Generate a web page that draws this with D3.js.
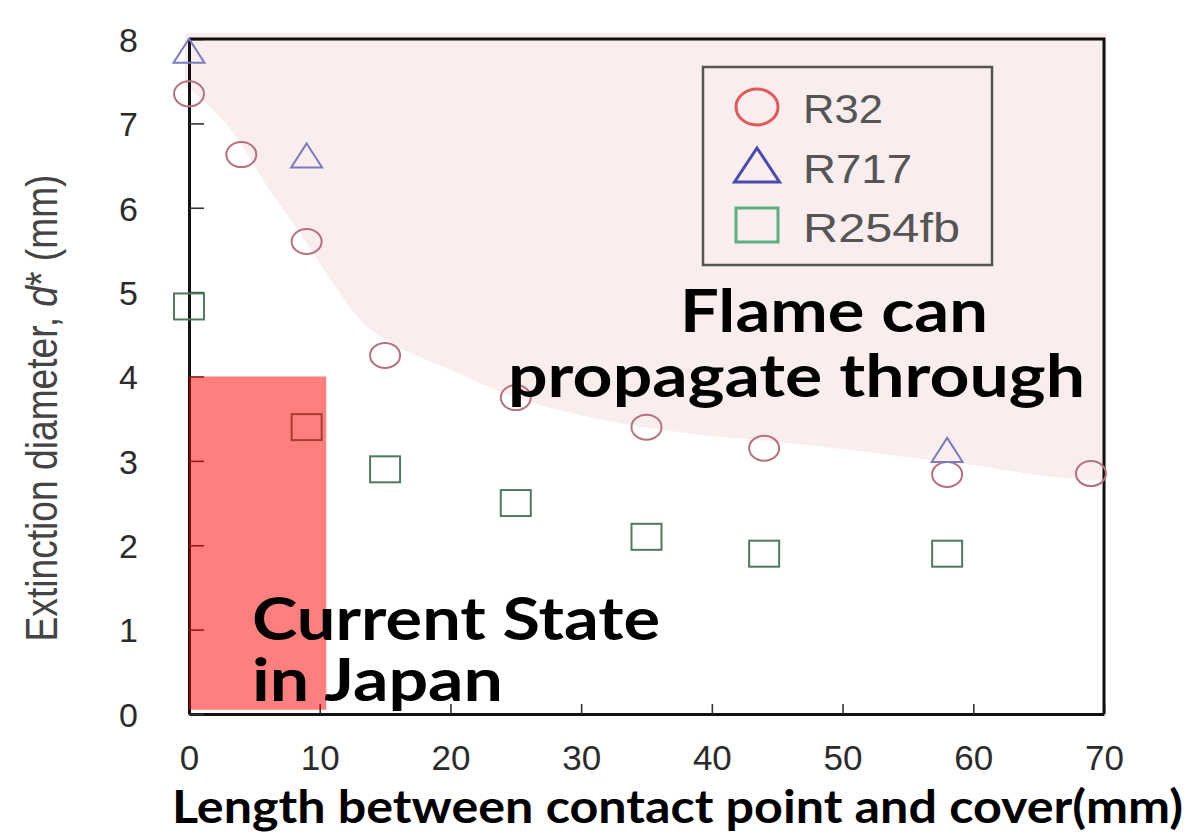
<!DOCTYPE html>
<html>
<head>
<meta charset="utf-8">
<script src="https://cdn.jsdelivr.net/npm/d3@7"></script>
<style>
  html, body { margin: 0; padding: 0; background: #fff; }
  svg { display: block; }
</style>
</head>
<body>
<svg id="chart" width="1188" height="837"></svg>
<script>
// ---- data ----
const r32X = [0, 4, 9, 15, 25, 35, 44, 58, 69];
const r32Y = [7.35, 6.63, 5.6, 4.25, 3.75, 3.4, 3.15, 2.84, 2.85];
const r717X = [0, 9, 58];
const r717Y = [7.86, 6.62, 3.13];
const r254X = [0, 9, 15, 25, 35, 44, 58];
const r254Y = [4.83, 3.4, 2.9, 2.5, 2.1, 1.9, 1.9];
// boundary of the "flame can propagate" region
const bndX = [0, 0.8, 3.4, 6.0, 8.5, 11.0, 13.3, 15.5, 20.0, 24.8, 28.4, 39.1, 44.1, 58.0, 70.2];
const bndY = [7.42, 7.31, 6.89, 6.25, 5.70, 5.11, 4.64, 4.40, 4.08, 3.76, 3.60, 3.31, 3.24, 2.99, 2.77];
// Japan current state region
const japanX = [0, 10.5];
const japanY = [0.05, 4.0];
const xTicks = [0, 10, 20, 30, 40, 50, 60, 70];
const yTicks = [0, 1, 2, 3, 4, 5, 6, 7, 8];
const legendNames = ["R32", "R717", "R254fb"];

const svg = d3.select("#chart");
const x = d3.scaleLinear().domain([0, 70]).range([189, 1104]);
const y = d3.scaleLinear().domain([0, 8]).range([714, 39]);

// pink region
const bnd = bndX.map((d, i) => [d, bndY[i]]);
const poly = [[-0.3, 8.07], [-0.3, 7.45]].concat(bnd).concat([[70.2, 8.07]]);
svg.append("path")
  .attr("d", d3.line().x(d => x(d[0])).y(d => y(d[1])).curve(d3.curveMonotoneX)(poly))
  .attr("fill", "#f9eded");

// axes
const gx = svg.append("g").attr("transform", `translate(0,${y(0)})`)
  .call(d3.axisBottom(x).tickValues(xTicks).tickSizeInner(-10).tickSizeOuter(0).tickPadding(31));
const gy = svg.append("g").attr("transform", `translate(${x(0)},0)`)
  .call(d3.axisLeft(y).tickValues(yTicks).tickSizeInner(-15).tickSizeOuter(0).tickPadding(51));
[gx, gy].forEach(g => {
  g.select(".domain").attr("stroke", "#111").attr("stroke-width", 3);
  g.selectAll(".tick line").attr("stroke", "#333").attr("stroke-width", 1.6);
  g.selectAll(".tick text").attr("fill", "#2b2b2b").attr("font-family", "Liberation Sans, Arial, sans-serif");
});
gx.selectAll(".tick text").attr("font-size", 35);
gy.selectAll(".tick text").attr("font-size", 34).attr("dy", "0.36em");
// frame top/right
svg.append("path")
  .attr("d", `M${x(0)},${y(8)}H${x(70)}V${y(0)}`)
  .attr("fill", "none").attr("stroke", "#111").attr("stroke-width", 3);

// markers
const gM = svg.append("g").attr("fill", "none").attr("stroke-width", 2);
gM.selectAll(".c").data(r32X).join("ellipse")
  .attr("cx", d => x(d)).attr("cy", (d, i) => y(r32Y[i]))
  .attr("rx", 15).attr("ry", 12.5).attr("stroke", "#b8707c");
const tri = (cx, cy, w, h) => `M${cx},${cy - h / 2}L${cx + w / 2},${cy + h / 2}L${cx - w / 2},${cy + h / 2}Z`;
gM.selectAll(".t").data(r717X).join("path")
  .attr("d", (d, i) => tri(x(d), y(r717Y[i]), 31, 24)).attr("stroke", "#7a7ac0");
gM.selectAll(".s").data(r254X).join("rect")
  .attr("x", d => x(d) - 15).attr("y", (d, i) => y(r254Y[i]) - 13)
  .attr("width", 30).attr("height", 26).attr("stroke", "#4e7a5e");

// Japan rect
svg.append("rect")
  .attr("x", x(japanX[0])).attr("y", y(japanY[1]))
  .attr("width", x(japanX[1]) - x(japanX[0])).attr("height", y(japanY[0]) - y(japanY[1]))
  .attr("fill", "rgb(255,0,0)").attr("fill-opacity", 0.5);

// legend
svg.append("rect").attr("x", 703).attr("y", 67).attr("width", 289).attr("height", 198)
  .attr("fill", "none").attr("stroke", "#555").attr("stroke-width", 2.5);
const lg = svg.append("g").attr("fill", "none").attr("stroke-width", 3);
lg.append("ellipse").attr("cx", 757).attr("cy", 107).attr("rx", 21).attr("ry", 18).attr("stroke", "#e05a5a");
lg.append("path").attr("d", tri(757, 165, 45, 34)).attr("stroke", "#4a4ab0");
lg.append("rect").attr("x", 736).attr("y", 208).attr("width", 42).attr("height", 34).attr("stroke", "#5caf80");
const legW = [80, 109, 157];
legendNames.forEach((n, i) => {
  svg.append("text").attr("x", 803).attr("y", 123 + i * 59.5)
    .attr("font-family", "Liberation Sans, Arial, sans-serif").attr("font-size", 40)
    .attr("fill", "#555").attr("textLength", legW[i]).attr("lengthAdjust", "spacingAndGlyphs")
    .text(n);
});

// y axis title
const yt = svg.append("text")
  .attr("transform", `translate(57,408) rotate(-90)`)
  .attr("text-anchor", "middle")
  .attr("font-family", "Liberation Sans, Arial, sans-serif").attr("font-size", 44)
  .attr("fill", "#444").attr("textLength", 467).attr("lengthAdjust", "spacingAndGlyphs");
yt.append("tspan").text("Extinction diameter, ");
yt.append("tspan").attr("font-style", "italic").text("d");
yt.append("tspan").text("* (mm)");

// bold annotations
const bold = (txt, tx, ty, fs, w) => svg.append("text").attr("x", tx).attr("y", ty)
  .attr("font-family", "Lato, 'Open Sans', sans-serif").attr("font-weight", 700)
  .attr("font-size", fs).attr("fill", "#000")
  .attr("textLength", w).attr("lengthAdjust", "spacingAndGlyphs").text(txt);
bold("Flame can", 680, 332, 60, 308);
bold("propagate through", 508, 397, 60, 577);
bold("Current State", 252, 640, 60, 408);
bold("in Japan", 252, 701, 60, 251);
bold("Length between contact point and cover(mm)", 172, 823, 45, 1011);
</script>
</body>
</html>
